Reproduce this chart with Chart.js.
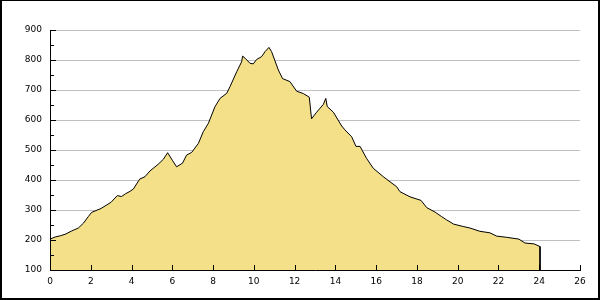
<!DOCTYPE html>
<html>
<head>
<meta charset="utf-8">
<script src="https://cdn.jsdelivr.net/npm/chart.js@4"></script>
<style>
  html, body { margin: 0; padding: 0; background: #fff; }
  canvas { display: block; }
</style>
</head>
<body>
<canvas id="c" width="600" height="300"></canvas>
<script>
const distKm = [0, 0.25, 0.5, 0.74, 1.06, 1.39, 1.64, 1.88, 2.04, 2.5, 3.0, 3.3, 3.51, 3.7, 3.92, 4.09, 4.4, 4.66, 4.9, 5.3, 5.56, 5.77, 6.0, 6.21, 6.5, 6.7, 6.95, 7.28, 7.52, 7.77, 8.09, 8.34, 8.67, 8.83, 9.16, 9.4, 9.45, 9.57, 9.81, 9.97, 10.14, 10.38, 10.55, 10.74, 10.87, 11.2, 11.41, 11.77, 12.1, 12.43, 12.72, 12.83, 13.08, 13.41, 13.53, 13.6, 13.9, 14.31, 14.47, 14.8, 15.01, 15.21, 15.53, 15.86, 16.35, 16.68, 17.0, 17.17, 17.66, 18.2, 18.48, 18.89, 19.21, 19.46, 19.8, 20.27, 20.6, 21.09, 21.58, 21.91, 22.4, 23.0, 23.3, 23.75, 24.04, 24.04];
const elevM = [203, 210, 214, 219, 230, 240, 256, 278, 292, 305, 326, 348, 345, 354, 362, 370, 403, 411, 430, 452, 469, 491, 466, 444, 456, 483, 492, 522, 561, 589, 644, 672, 689, 711, 761, 794, 813, 806, 789, 787, 802, 811, 828, 842, 828, 767, 738, 728, 696, 688, 676, 604, 626, 652, 672, 645, 626, 580, 567, 544, 512, 512, 472, 439, 411, 394, 378, 361, 344, 332, 308, 293, 278, 267, 253, 245, 240, 229, 224, 213, 209, 203, 190, 187, 178, 100];
const xTickValues = [0, 2, 4, 6, 8, 10, 12, 14, 16, 18, 20, 22, 24, 26];
const yTickValues = [100, 200, 300, 400, 500, 600, 700, 800, 900];
const yMinorTickValues = [150, 250, 350, 450, 550, 650, 750, 850];

const points = distKm.map((d, i) => ({ x: d, y: elevM[i] }));

const axesPlugin = {
  id: 'axesPlugin',
  afterDatasetsDraw(chart) {
    const ctx = chart.ctx;
    const xs = chart.scales.x, ys = chart.scales.y;
    const L = Math.round(xs.left), R = Math.round(xs.right);
    const T = Math.round(ys.top), B = Math.round(ys.bottom);
    ctx.save();
    ctx.strokeStyle = '#000';
    ctx.lineWidth = 1;
    ctx.beginPath();
    // axis lines
    ctx.moveTo(L + 0.5, T); ctx.lineTo(L + 0.5, B + 1);
    ctx.moveTo(L, B + 0.5); ctx.lineTo(R + 1, B + 0.5);
    // y ticks (inward)
    yTickValues.forEach(v => {
      const p = Math.round(ys.getPixelForValue(v)) + 0.5;
      ctx.moveTo(L, p); ctx.lineTo(L + 6, p);
    });
    yMinorTickValues.forEach(v => {
      const p = Math.round(ys.getPixelForValue(v)) + 0.5;
      ctx.moveTo(L, p); ctx.lineTo(L + 4, p);
    });
    // x ticks (inward)
    xTickValues.forEach(v => {
      const p = Math.round(xs.getPixelForValue(v)) + 0.5;
      ctx.moveTo(p, B); ctx.lineTo(p, B - 5);
    });
    ctx.stroke();
    ctx.restore();
  },
  afterDraw(chart) {
    const ctx = chart.ctx;
    ctx.save();
    ctx.fillStyle = '#000';
    ctx.fillRect(0, 0, 600, 1);
    ctx.fillRect(0, 0, 2, 300);
    ctx.fillRect(598, 0, 2, 300);
    ctx.fillRect(0, 298, 600, 2);
    ctx.restore();
  }
};

new Chart(document.getElementById('c'), {
  type: 'line',
  data: {
    datasets: [{
      data: points,
      borderColor: '#000000',
      borderWidth: 1,
      backgroundColor: '#F5E08A',
      fill: 'start',
      pointRadius: 0,
      tension: 0
    }]
  },
  options: {
    responsive: false,
    animation: false,
    layout: { padding: { left: 0, top: 30, right: 20, bottom: 0 } },
    plugins: { legend: { display: false }, tooltip: { enabled: false } },
    scales: {
      x: {
        type: 'linear',
        min: 0, max: 26,
        afterBuildTicks: s => { s.ticks = xTickValues.map(v => ({ value: v })); },
        afterFit: s => { s.height = 30; },
        grid: { display: false, drawTicks: false },
        border: { display: false },
        ticks: { color: '#000', font: { family: 'DejaVu Sans', size: 9 }, padding: 6, maxRotation: 0, autoSkip: false }
      },
      y: {
        min: 100, max: 900,
        afterBuildTicks: s => { s.ticks = yTickValues.map(v => ({ value: v })); },
        afterFit: s => { s.width = 50; },
        grid: { color: '#c0c0c0', lineWidth: 1, drawTicks: false },
        border: { display: false },
        ticks: { color: '#000', font: { family: 'DejaVu Sans', size: 9 }, padding: 8, autoSkip: false }
      }
    }
  },
  plugins: [axesPlugin]
});
</script>
</body>
</html>
